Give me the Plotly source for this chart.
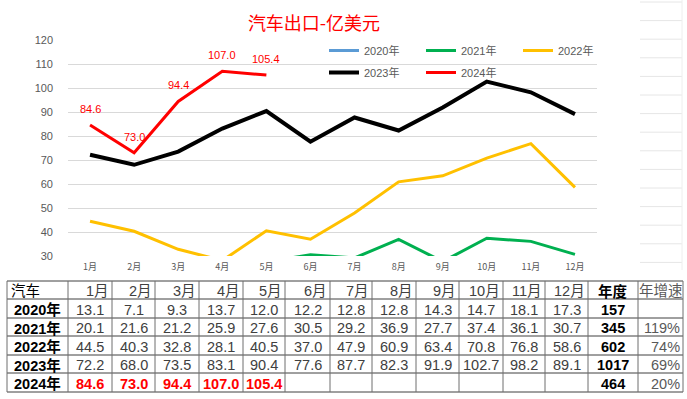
import plotly.graph_objects as go

W, H = 687, 399

months = ["1月", "2月", "3月", "4月", "5月", "6月", "7月", "8月", "9月", "10月", "11月", "12月"]
years = ["2020年", "2021年", "2022年", "2023年", "2024年"]

v2020 = [13.1, 7.1, 9.3, 13.7, 12.0, 12.2, 12.8, 12.8, 14.3, 14.7, 18.1, 17.3]
v2021 = [20.1, 21.6, 21.2, 25.9, 27.6, 30.5, 29.2, 36.9, 27.7, 37.4, 36.1, 30.7]
v2022 = [44.5, 40.3, 32.8, 28.1, 40.5, 37.0, 47.9, 60.9, 63.4, 70.8, 76.8, 58.6]
v2023 = [72.2, 68.0, 73.5, 83.1, 90.4, 77.6, 87.7, 82.3, 91.9, 102.7, 98.2, 89.1]
v2024 = [84.6, 73.0, 94.4, 107.0, 105.4]

annual = ["157", "345", "602", "1017", "464"]
growth = ["", "119%", "74%", "69%", "20%"]

series = [v2020, v2021, v2022, v2023, v2024]
colors = ["#5B9BD5", "#00B050", "#FFC000", "#000000", "#FF0000"]
widths = [3, 3, 3, 4, 3]
legend_ids = ["legend", "legend", "legend", "legend2", "legend2"]


def px_x(p):
    return p / W


def px_y(p):
    return 1 - p / H


fig = go.Figure()

for name, vals, c, w, lg in zip(years, series, colors, widths, legend_ids):
    fig.add_trace(go.Scatter(
        x=months[:len(vals)], y=vals, name=name, mode="lines",
        line=dict(color=c, width=w), legend=lg,
    ))

# data labels for 2024
for m, v in zip(months, v2024):
    fig.add_annotation(x=m, y=v, xref="x", yref="y", text=f"{v:.1f}", showarrow=False,
                       yshift=16, font=dict(family="Liberation Sans, Arial", size=11, color="#FF0000"))

# ---- data table (drawn with shapes + text) ----
col_edges = [7, 68, 112, 155, 199, 243, 285, 330, 372, 416, 459, 503, 545, 588, 638, 683]
row_edges = [281, 299, 318, 336, 355, 373, 392]
tfont = "Liberation Sans, Arial, Noto Sans CJK SC"
TS = 14.5

shapes = []
for yy in row_edges:
    shapes.append(dict(type="line", xref="paper", yref="paper", x0=px_x(col_edges[0]), x1=px_x(col_edges[-1]),
                       y0=px_y(yy), y1=px_y(yy), line=dict(color="#404040", width=1)))
for xx in col_edges:
    shapes.append(dict(type="line", xref="paper", yref="paper", x0=px_x(xx), x1=px_x(xx),
                       y0=px_y(row_edges[0]), y1=px_y(row_edges[-1]), line=dict(color="#6E6E6E", width=1)))

header_vals = ["汽车"] + months + ["<b>年度</b>", "年增速"]
rows = []
for yname, s, a, g in zip(years, series, annual, growth):
    cells = [f"<b>{yname}</b>"]
    for i in range(12):
        if i < len(s):
            cells.append(f"<b>{s[i]:.1f}</b>" if s is v2024 else f"{s[i]:.1f}")
        else:
            cells.append("")
    cells.append(f"<b>{a}</b>")
    cells.append(g)
    rows.append(cells)


def cell_ann(text, ci, ri, color, align):
    x0, x1 = col_edges[ci], col_edges[ci + 1]
    yc = (row_edges[ri] + row_edges[ri + 1]) / 2 + 1
    if align == "left":
        x, xa = x0 + 2, "left"
    elif align == "right":
        x, xa = x1 - 1, "right"
    else:
        x, xa = (x0 + x1) / 2, "center"
    fig.add_annotation(x=px_x(x), y=px_y(yc), xref="paper", yref="paper", text=text, showarrow=False,
                       xanchor=xa, yanchor="middle", font=dict(family=tfont, size=TS, color=color))


for ci, t in enumerate(header_vals):
    if ci == 0:
        cell_ann(t, ci, 0, "#000000", "left")
    elif ci == 13:
        cell_ann(t, ci, 0, "#000000", "center")
    elif ci == 14:
        cell_ann(t, ci, 0, "#595959", "center")
    else:
        cell_ann(t, ci, 0, "#404040", "right")

for ri, cells in enumerate(rows):
    for ci, t in enumerate(cells):
        if t == "":
            continue
        if ci == 0 or ci == 13:
            cell_ann(t, ci, ri + 1, "#000000", "center")
        elif ci == 14:
            cell_ann(t, ci, ri + 1, "#595959", "right")
        else:
            cell_ann(t, ci, ri + 1, "#FF0000" if ri == 4 else "#404040", "center")

# faint spreadsheet gridlines at right
for k in range(15):
    yy = 2 + k * 18.6
    shapes.append(dict(type="line", xref="paper", yref="paper", x0=px_x(640), x1=px_x(682),
                       y0=px_y(yy), y1=px_y(yy), line=dict(color="#E6E6E6", width=1)))
shapes.append(dict(type="line", xref="paper", yref="paper", x0=px_x(682), x1=px_x(682),
                   y0=px_y(0), y1=px_y(270), line=dict(color="#EEEEEE", width=1)))

legend_style = dict(orientation="h", xanchor="left", yanchor="top",
                    bgcolor="rgba(0,0,0,0)", entrywidth=52, entrywidthmode="pixels",
                    font=dict(family="Liberation Sans, Noto Sans CJK SC", size=11, color="#595959"),
                    traceorder="normal")

fig.update_layout(
    width=W, height=H,
    margin=dict(l=0, r=0, t=0, b=0, autoexpand=False),
    paper_bgcolor="white", plot_bgcolor="white",
    title=dict(text="汽车出口-亿美元", x=px_x(314), xanchor="center", y=px_y(24), yanchor="middle",
               xref="paper", yref="container",
               font=dict(family="Noto Sans CJK SC", size=18, color="#FF0000")),
    xaxis=dict(domain=[px_x(68), px_x(597)], type="category", categoryorder="array", categoryarray=months,
               range=[-0.5, 11.5], showgrid=False, showline=False, zeroline=False, ticks="",
               ticklabelstandoff=4, automargin=False,
               tickfont=dict(family="Noto Sans CJK SC", size=9, color="#595959")),
    yaxis=dict(domain=[px_y(256), px_y(40)], range=[30, 120], dtick=10, showgrid=True,
               gridcolor="#D9D9D9", gridwidth=1, zeroline=False, showline=False, ticks="",
               ticklabelstandoff=14, automargin=False,
               tickfont=dict(family="Liberation Sans, Arial", size=11, color="#595959")),
    legend=dict(x=px_x(324), y=px_y(36), **legend_style),
    legend2=dict(x=px_x(324), y=px_y(58), **legend_style),
    shapes=shapes,
    showlegend=True,
)

fig.write_html("out.html", config={"displayModeBar": False},
               post_script="document.body.style.margin='0px';")
